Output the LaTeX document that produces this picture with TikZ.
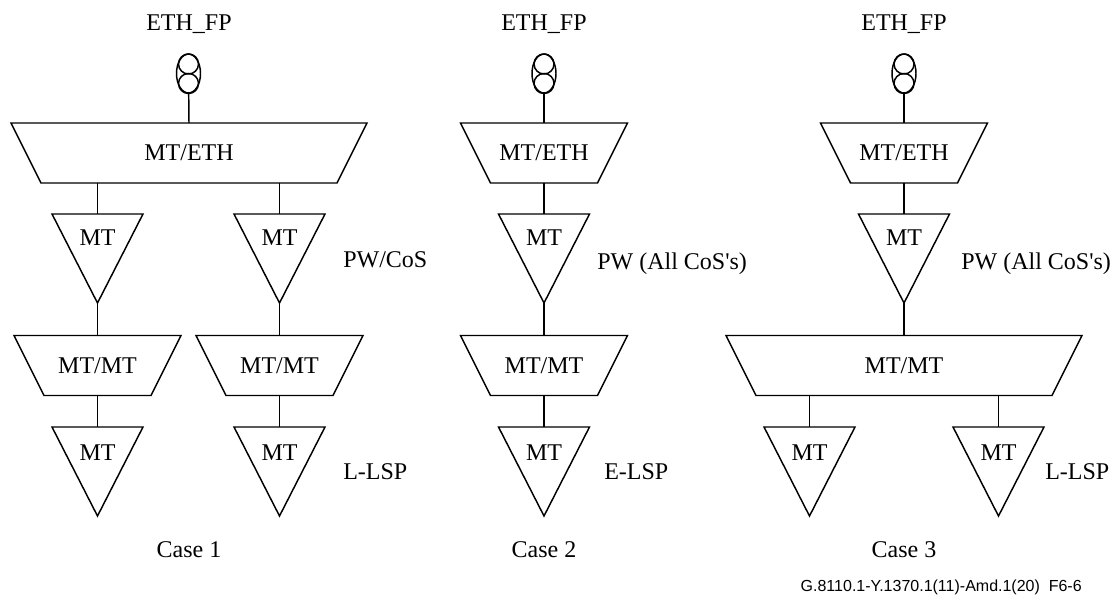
\documentclass[tikz,border=0pt]{standalone}
\usepackage{fontspec}
\setmainfont{Liberation Serif}
\newfontfamily\notefont{Liberation Sans}
\usetikzlibrary{shapes.geometric}
\begin{document}
\begin{tikzpicture}
        [x=0.75pt, y=-0.75pt, font=\fontsize{18}{20}\selectfont,
        wire/.style={line width=1.1pt, black},
        tri/.style={isosceles triangle, isosceles triangle stretches, draw, line width=1.1pt, outer sep=0pt,
            shape border rotate=270, minimum width=68.25pt, minimum height=66.75pt, inner sep=0pt, anchor=apex},
        trap/.style={trapezium, trapezium stretches body, draw, line width=1.1pt, outer sep=0pt, shape border rotate=180,
            trapezium angle=63.4, text height=28.5pt, text depth=16.5pt, inner sep=0pt},
        eth/.style={ellipse, draw, line width=1.1pt, outer sep=0pt, minimum width=18pt, minimum height=29.25pt, inner sep=0pt},
        ring/.style={circle, draw, line width=1.1pt, outer sep=0pt, minimum size=15pt, inner sep=0pt},
        mtlabel/.style={inner sep=0pt},
        side/.style={anchor=west, inner sep=0pt}]

        \useasboundingbox (0,0) rectangle (1113,595);

        % Case 1
        \node (fp1) at (189,24) {ETH\_FP};
        \node[eth] (e1) at (188.5,73.5) {};
        \node[ring] (ea1) at (188.5,64) {};
        \node[ring] (eb1) at (188.5,83.5) {};
        \node[trap, minimum width=267pt] (ma1) at (189,153) {MT/ETH};
        \node[tri] (ta1) at (97.5,303) {};
        \node[tri] (tb1) at (279.5,303) {};
        \node[trap, minimum width=125.25pt] (mb1) at (97.5,365.5) {MT/MT};
        \node[trap, minimum width=125.25pt] (mc1) at (279.5,365.5) {MT/MT};
        \node[tri] (tc1) at (97.5,516) {};
        \node[tri] (td1) at (279.5,516) {};
        \node[mtlabel] at (97.5,238) {MT};
        \node[mtlabel] at (279.5,238) {MT};
        \node[mtlabel] at (97.5,452.5) {MT};
        \node[mtlabel] at (279.5,452.5) {MT};
        \node[side] at (343,260) {PW/CoS};
        \node[side] at (343,472) {L-LSP};
        \node at (189,550) {Case 1};

        % Case 2
        \node (fp2) at (544,24) {ETH\_FP};
        \node[eth] (e2) at (544,73.5) {};
        \node[ring] (ea2) at (544,64) {};
        \node[ring] (eb2) at (544,83.5) {};
        \node[trap, minimum width=125.25pt] (ma2) at (544,153) {MT/ETH};
        \node[tri] (ta2) at (544,303) {};
        \node[trap, minimum width=125.25pt] (mb2) at (544,365.5) {MT/MT};
        \node[tri] (tc2) at (544,516) {};
        \node[mtlabel] at (544,238) {MT};
        \node[mtlabel] at (544,452.5) {MT};
        \node[side] at (597,264) {PW (All CoS\textquotesingle s)};
        \node[side] at (604,472) {E-LSP};
        \node at (544,550) {Case 2};

        % Case 3
        \node (fp3) at (904,24) {ETH\_FP};
        \node[eth] (e3) at (904,73.5) {};
        \node[ring] (ea3) at (904,64) {};
        \node[ring] (eb3) at (904,83.5) {};
        \node[trap, minimum width=125.25pt] (ma3) at (904,153) {MT/ETH};
        \node[tri] (ta3) at (904,303) {};
        \node[trap, minimum width=267pt] (mb3) at (904,365.5) {MT/MT};
        \node[tri] (tc3) at (809.5,516) {};
        \node[tri] (td3) at (998.5,516) {};
        \node[mtlabel] at (904,238) {MT};
        \node[mtlabel] at (809.5,452.5) {MT};
        \node[mtlabel] at (998.5,452.5) {MT};
        \node[side] at (961,264) {PW (All CoS\textquotesingle s)};
        \node[side] at (1045,472) {L-LSP};
        \node at (904,550) {Case 3};

        \node[anchor=east, inner sep=0pt, font=\notefont\fontsize{12}{14}\selectfont] (fig) at (1082,587) {G.8110.1-Y.1370.1(11)-Amd.1(20)\ \ F6-6};

        % connectors
        \draw[wire] (e1) -- (ma1.bottom side);
        \draw[wire] (ta1.lower side |- ma1.top side) -- (ta1.lower side);
        \draw[wire] (tb1.lower side |- ma1.top side) -- (tb1.lower side);
        \draw[wire] (ta1.apex) -- (mb1.bottom side);
        \draw[wire] (tb1.apex) -- (mc1.bottom side);
        \draw[wire] (mb1.top side) -- (tc1.lower side);
        \draw[wire] (mc1.top side) -- (td1.lower side);

        \draw[wire] (e2) -- (ma2.bottom side);
        \draw[wire] (ma2.top side) -- (ta2.lower side);
        \draw[wire] (ta2.apex) -- (mb2.bottom side);
        \draw[wire] (mb2.top side) -- (tc2.lower side);

        \draw[wire] (e3) -- (ma3.bottom side);
        \draw[wire] (ma3.top side) -- (ta3.lower side);
        \draw[wire] (ta3.apex) -- (mb3.bottom side);
        \draw[wire] (tc3.lower side |- mb3.top side) -- (tc3.lower side);
        \draw[wire] (td3.lower side |- mb3.top side) -- (td3.lower side);

    \end{tikzpicture}
\end{document}
